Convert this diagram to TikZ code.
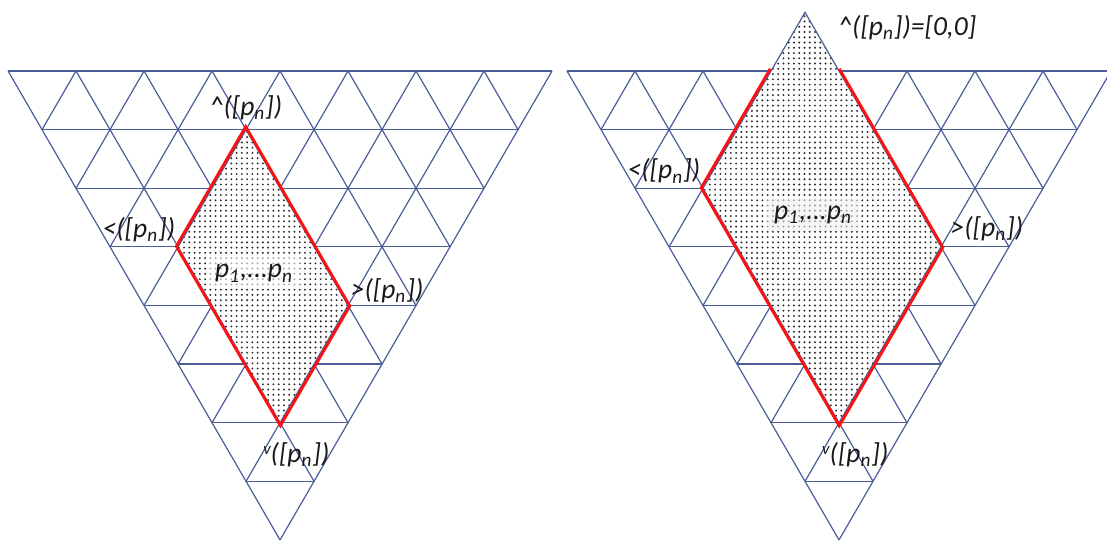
\documentclass[tikz,border=0pt]{standalone}
\usepackage{fontspec}
\setmainfont{Carlito}
\usepackage{xcolor}
\definecolor{cGrid}{HTML}{4A5D9A}
\definecolor{cEdge}{HTML}{FF1010}
\definecolor{cDot}{HTML}{2A2A2A}
\usepackage{tikz}
\usetikzlibrary{positioning,calc,patterns.meta}
\tikzset{
  grid-line/.style={draw=cGrid,line width=0.5pt},
  region-fill/.style={preaction={fill=white},
    pattern={Dots[distance=2.2pt,radius=0.45pt]},pattern color=cDot},
  edge-red/.style={draw=cEdge,line width=1.2pt,line join=miter},
  lbl/.style={font=\fontsize{11.5}{13}\selectfont\itshape,inner sep=1pt,text=black!90},
  mid-label/.style={lbl,fill=white,fill opacity=0.6,text opacity=1,inner sep=3pt},
  % 斜坐标：x 沿顶边，y 沿右下方向一行
  tri-axes/.style={x={(1cm,0)},y={(0.5cm,-0.862cm)}},
}
\newcommand{\Pn}{([p\textsubscript{n}])}
\newcommand{\downv}{\raisebox{.6ex}{\scriptsize v}}

\begin{document}
\begin{tikzpicture}
  \path[use as bounding box] (0,0) rectangle (16.279,-7.971);

  % 左图
  \begin{scope}[shift={(0.118,-1.044)},tri-axes]
    \foreach \k in {0,...,7} \draw[grid-line] (0,\k) -- ({8-\k},\k);
    \foreach \i in {0,...,7} \draw[grid-line] (\i,0) -- (\i,{8-\i});
    \foreach \i in {1,...,8} \draw[grid-line] (\i,0) -- (0,\i);
    \coordinate (Lt) at (3,1);
    \coordinate (Ll) at (1,3);
    \coordinate (Lb) at (1,6);
    \coordinate (Lr) at (3,4);
    \coordinate (Lc) at ($(Ll)!0.5!(Lr)$);
    \path[region-fill] (Lt) -- (Ll) -- (Lb) -- (Lr) -- cycle;
    \draw[grid-line] (Lt) -- (Ll) -- (Lb) -- (Lr) -- cycle;
    \draw[edge-red] ($(Lc)!1.02!(Lt)$) -- ($(Lc)!1.02!(Ll)$) -- ($(Lc)!1.02!(Lb)$)
      -- ($(Lc)!1.02!(Lr)$) -- cycle;
    \node[lbl,above=3pt] (L-up) at (Lt) {\textasciicircum\Pn};
    \node[lbl,anchor=south east,yshift=0.03cm] (L-left) at (Ll) {<\Pn};
    \node[lbl,anchor=south west] (L-right) at (Lr) {>\Pn};
    \node[lbl,anchor=north,xshift=0.24cm,yshift=-0.25cm] (L-down) at (Lb) {\downv\Pn};
    \node[mid-label,xshift=-0.13cm,yshift=0.04cm] (L-mid) at (Lc) {p\textsubscript{1},...p\textsubscript{n}};
  \end{scope}

  % 右图：菱形顶点在顶边之上
  \begin{scope}[shift={(8.338,-1.044)},tri-axes]
    \foreach \k in {0,...,7} \draw[grid-line] (0,\k) -- ({8-\k},\k);
    \foreach \i in {0,...,7} \draw[grid-line] (\i,0) -- (\i,{8-\i});
    \foreach \i in {1,...,8} \draw[grid-line] (\i,0) -- (0,\i);
    \coordinate (Rt) at (4,-1);
    \coordinate (Rl) at (1,2);
    \coordinate (Rb) at (1,6);
    \coordinate (Rr) at (4,3);
    \coordinate (Rc) at ($(Rl)!0.5!(Rr)$);
    \coordinate (Ra) at (3,0);
    \coordinate (Rz) at (4,0);
    \path[region-fill] (Rt) -- (Rl) -- (Rb) -- (Rr) -- cycle;
    \draw[grid-line] (Rt) -- (Rl) -- (Rb) -- (Rr) -- cycle;
    \draw[edge-red] ($(Rc)!1.015!(Ra)$) -- ($(Rc)!1.015!(Rl)$) -- ($(Rc)!1.015!(Rb)$)
      -- ($(Rc)!1.015!(Rr)$) -- ($(Rc)!1.015!(Rz)$);
    \node[lbl,anchor=west,xshift=0.45cm,yshift=-0.22cm] (R-up) at (Rt) {\textasciicircum\Pn=[0,0]};
    \node[lbl,anchor=south east,yshift=0.03cm] (R-left) at (Rl) {<\Pn};
    \node[lbl,anchor=south west,xshift=0.1cm,yshift=0.05cm] (R-right) at (Rr) {>\Pn};
    \node[lbl,anchor=north,xshift=0.24cm,yshift=-0.25cm] (R-down) at (Rb) {\downv\Pn};
    \node[mid-label,fill=black!6,xshift=-0.13cm,yshift=0.04cm] (R-mid) at (Rc) {p\textsubscript{1},...p\textsubscript{n}};
  \end{scope}
\end{tikzpicture}
\end{document}
